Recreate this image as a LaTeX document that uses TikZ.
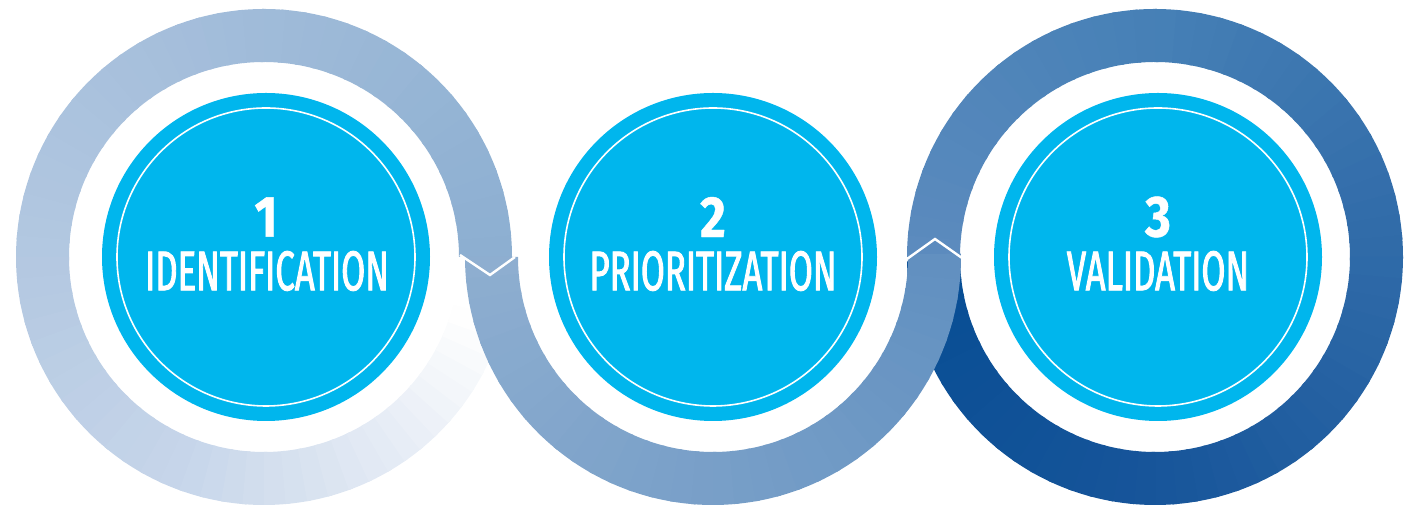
\documentclass[tikz,border=0pt]{standalone}
\usepackage{fontspec}
\setmainfont{Fira Sans}
\newfontfamily\stagefont[FakeStretch=0.62, FakeBold=1.6]{Fira Sans}
\newfontfamily\numfont[FakeStretch=0.85, FakeBold=0.8]{Fira Sans}
\usetikzlibrary{positioning}
\definecolor{discblue}{RGB}{0,182,237}
\definecolor{ringAa}{HTML}{8CAFD1}
\definecolor{ringAb}{HTML}{A0BBD9}
\definecolor{ringAc}{HTML}{B3C8E1}
\definecolor{ringAd}{HTML}{C7D6EA}
\definecolor{ringAe}{HTML}{E3EAF4}
\definecolor{ringBa}{HTML}{8EAED0}
\definecolor{ringBb}{HTML}{789FC8}
\definecolor{ringBc}{HTML}{6190C0}
\definecolor{ringCa}{HTML}{5C8BBE}
\definecolor{ringCb}{HTML}{4680B6}
\definecolor{ringCc}{HTML}{2F6AA8}
\definecolor{ringCd}{HTML}{17559A}
\definecolor{ringCe}{HTML}{074D94}
\tikzset{
  disc/.style={circle, fill=discblue, minimum size=164pt, inner sep=0pt},
  discline/.style={circle, draw=white, line width=0.8pt, minimum size=149pt, inner sep=0pt},
  stagenum/.style={text=white, font=\numfont\bfseries\fontsize{29}{29}\selectfont, inner sep=0pt},
  stagename/.style={text=white, font=\stagefont\fontsize{28}{28}\selectfont, inner sep=0pt},
  zigzag/.style={draw=white, line width=1.2pt, line join=miter}
}
% one coloured stretch of a ring: centre, from angle, to angle, from colour, to colour, pieces
\newcommand{\ringpart}[6]{%
  \foreach \i in {1,...,#6}{
    \pgfmathsetmacro\ta{#2+(#3-#2)*(\i-1)/#6}
    \pgfmathsetmacro\tb{#2+(#3-#2)*(\i+0.2)/#6}
    \pgfmathtruncatemacro\pc{100*(\i-0.5)/#6}
    \fill[#5!\pc!#4, shift={(#1)}] (\ta:\ringout) arc[start angle=\ta, end angle=\tb, radius=\ringout]
      -- (\tb:\ringin) arc[start angle=\tb, end angle=\ta, radius=\ringin] -- cycle;
  }}
\def\ringout{248}
\def\ringin{195}

\begin{document}
\begin{tikzpicture}[x=0.5pt, y=0.5pt]
    \useasboundingbox (0, 0) rectangle (1410, 507);
    \coordinate (m1) at (264, 250);
    \coordinate (m2) at (713, 250);
    \coordinate (m3) at (1155, 250);
    % ring 1, fading out at the lower right
    \ringpart{m1}{0}{90}{ringAa}{ringAb}{18}
    \ringpart{m1}{90}{180}{ringAb}{ringAc}{18}
    \ringpart{m1}{180}{250}{ringAc}{ringAd}{14}
    \ringpart{m1}{250}{300}{ringAd}{ringAe}{10}
    \ringpart{m1}{300}{345}{ringAe}{white}{10}
    % ring 3, darkening clockwise
    \ringpart{m3}{180}{90}{ringCa}{ringCb}{18}
    \ringpart{m3}{90}{0}{ringCb}{ringCc}{18}
    \ringpart{m3}{0}{-90}{ringCc}{ringCd}{18}
    \ringpart{m3}{-90}{-178}{ringCd}{ringCe}{18}
    % ring 2, lower half only
    \ringpart{m2}{180}{270}{ringBa}{ringBb}{18}
    \ringpart{m2}{270}{359.8}{ringBb}{ringBc}{18}

    \coordinate (z1a) at (460, 252);
    \coordinate (z1b) at (490, 232);
    \coordinate (z1c) at (515, 250);
    \coordinate (z2a) at (907, 248);
    \coordinate (z2b) at (935, 268);
    \coordinate (z2c) at (962, 249);
    \draw[zigzag] (z1a) -- (z1b) -- (z1c);
    \draw[zigzag] (z2a) -- (z2b) -- (z2c);

    \node[disc] (d1) at (266, 250) {};
    \node[disc] (d2) at (713, 250) {};
    \node[disc] (d3) at (1158, 250) {};
    \node[discline] (l1) at (d1) {};
    \node[discline] (l2) at (d2) {};
    \node[discline] (l3) at (d3) {};

    \node[stagenum] (n1) at (266, 290) {1};
    \node[stagenum] (n2) at (713, 290) {2};
    \node[stagenum] (n3) at (1158, 290) {3};
    \node[stagename] (s1) at (267, 236) {IDENTIFICATION};
    \node[stagename] (s2) at (713, 236) {PRIORITIZATION};
    \node[stagename] (s3) at (1158, 236) {VALIDATION};
\end{tikzpicture}
\end{document}
